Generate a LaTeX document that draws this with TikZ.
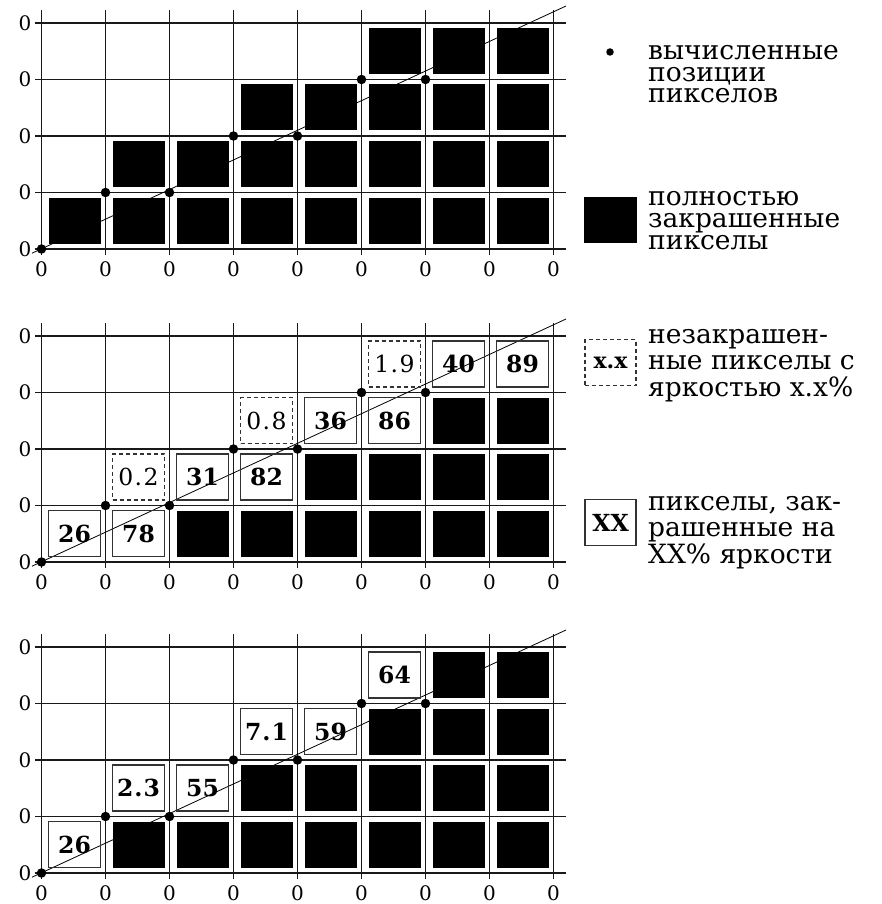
\documentclass[tikz,border=0pt]{standalone}
\usepackage{fontspec}
\setmainfont{DejaVu Serif}
\begin{document}
\begin{tikzpicture}[x=1pt,y=-1pt,
  gridline/.style={line width=1.6pt, black!90},
  diag/.style={line width=0.8pt},
  pxbox/.style={rectangle, minimum width=52pt, minimum height=46pt, inner sep=0pt, outer sep=0pt},
  fullpx/.style={pxbox, fill=black},
  partpx/.style={pxbox, draw=black!80, line width=1.2pt, font=\bfseries\fontsize{23.5}{23.5}\selectfont},
  dimpx/.style={pxbox, draw=black!80, line width=1.2pt, dash pattern=on 4pt off 3pt, font=\fontsize{23.5}{23.5}\selectfont},
  calcdot/.style={circle, fill=black, inner sep=0pt, minimum size=9.5pt},
  axislbl/.style={font=\fontsize{20}{20}\selectfont, inner sep=0pt},
  legtext/.style={anchor=base west, inner sep=0pt, align=left}
]
\useasboundingbox (0,0) rectangle (882,904);

\foreach \p/\B in {1/249,2/562,3/873} {
  % grid
  \foreach \r in {0,...,4} {
    \draw[gridline] (35,\B-56.5*\r) -- (566,\B-56.5*\r);
    \node[axislbl] (p\p l\r) at (25,\B-56.5*\r) {0};
  }
  \foreach \c in {0,...,8} {
    \draw[gridline] (41.5+64*\c,\B-239) -- (41.5+64*\c,\B+6);
    \node[axislbl] (p\p b\c) at (41.5+64*\c,\B+20.5) {0};
  }
  % ideal line
  \coordinate (p\p s) at (32,\B+4.2);
  \coordinate (p\p e) at (566,\B-243);
  \draw[diag] (p\p s) -- (p\p e);
}

% panel 1: fully painted pixels
\foreach \r/\s in {0/0,1/1,2/3,3/5} {
  \foreach \c in {\s,...,7} {
    \node[fullpx] (a\r\c) at (41.5+64*\c+33, 249-56.5*\r-28.5) {};
  }
}
% panel 2
\foreach \r/\s in {0/2,1/4,2/6} {
  \foreach \c in {\s,...,7} {
    \node[fullpx] (b\r\c) at (41.5+64*\c+33, 562-56.5*\r-28.5) {};
  }
}
\foreach \c/\r/\t in {0/0/26,1/0/78,2/1/31,3/1/82,4/2/36,5/2/86,6/3/40,7/3/89} {
  \node[partpx] (b\r\c) at (41.5+64*\c+33, 562-56.5*\r-28.5) {\t};
}
\foreach \c/\r/\a/\b in {1/1/0/2,3/2/0/8,5/3/1/9} {
  \node[dimpx] (b\r\c) at (41.5+64*\c+33, 562-56.5*\r-28.5) {\a\kern1.5pt.\kern1.5pt\b};
}
% panel 3
\foreach \c/\r/\t in {0/0/26,2/1/55,4/2/59,5/3/64} {
  \node[partpx] (c\r\c) at (41.5+64*\c+33, 873-56.5*\r-28.5) {\t};
}
\foreach \c/\r/\a/\b in {1/1/2/3,3/2/7/1} {
  \node[partpx] (c\r\c) at (41.5+64*\c+33, 873-56.5*\r-28.5) {\a\kern1pt.\kern1pt\b};
}
\foreach \r/\s in {0/1,1/3,2/5,3/6} {
  \foreach \c in {\s,...,7} {
    \node[fullpx] (c\r\c) at (41.5+64*\c+33, 873-56.5*\r-28.5) {};
  }
}

% calculated pixel positions
\foreach \p/\B in {1/249,2/562,3/873} {
  \foreach \c/\r in {0/0,1/1,2/1,3/2,4/2,5/3,6/3} {
    \node[calcdot] (p\p d\c) at (41.5+64*\c, \B-56.5*\r) {};
  }
}

% legend
\node[calcdot, minimum size=7.5pt] (ldot) at (610,52) {};
\node[legtext, font=\fontsize{26.5}{21.5}\selectfont] (leg1) at (648,103) {вычисленные\\позиции\\пикселов};

\node[pxbox, fill=black, minimum width=53pt] (lfull) at (610.5,220) {};
\node[legtext, font=\fontsize{26.5}{22}\selectfont] (leg2) at (648,249) {полностью\\закрашенные\\пикселы};

\node[dimpx, minimum width=51pt, font=\bfseries\fontsize{22}{22}\selectfont] (ldim) at (610.5,362.5) {x.x};
\node[legtext, font=\fontsize{26.5}{26.5}\selectfont] (leg3) at (648,396) {незакрашен-\\ные пикселы с\\яркостью x.x\%};

\node[partpx, minimum width=51pt] (lpart) at (610.5,522.5) {XX};
\node[legtext, font=\fontsize{26.5}{26.5}\selectfont] (leg4) at (648,563) {пикселы, зак-\\рашенные на\\XX\% яркости};
\end{tikzpicture}
\end{document}
